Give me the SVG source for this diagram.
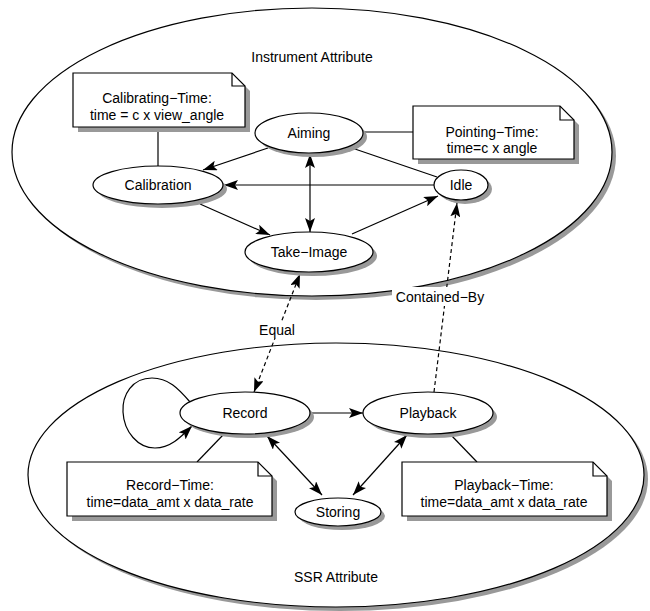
<svg xmlns="http://www.w3.org/2000/svg" width="650" height="611" viewBox="0 0 650 611">
<style>
text{font-family:"Liberation Sans",Arial,sans-serif;font-size:14px;fill:#000;text-anchor:middle}
.sh{fill:#999;stroke:none}
.nd{fill:#fff;stroke:#000;stroke-width:1.2}
.ln{fill:none;stroke:#000;stroke-width:1.2}
.ds{fill:none;stroke:#000;stroke-width:1.2;stroke-dasharray:4,3}
.bg{fill:#fff;stroke:none}
</style>
<defs>
<marker id="ah" viewBox="0 0 14 10" refX="14" refY="5" markerWidth="14" markerHeight="10" markerUnits="userSpaceOnUse" orient="auto-start-reverse">
<path d="M0,0 L14,5 L0,10 L3,5 Z" fill="#000"/>
</marker>
</defs>
<rect width="650" height="611" fill="#fff"/>
<g id="instrument-attribute">
<ellipse class="sh" cx="316" cy="156" rx="300" ry="144"/>
<ellipse class="nd" cx="312" cy="152" rx="300" ry="144"/>
<text x="312" y="62">Instrument Attribute</text>
</g>
<g id="ssr-attribute">
<ellipse class="sh" cx="340" cy="479" rx="308" ry="132"/>
<ellipse class="nd" cx="336" cy="475" rx="308" ry="132"/>
<text x="336" y="582">SSR Attribute</text>
</g>
<g id="connectors">
<line class="ln" x1="268" y1="148" x2="203" y2="170" marker-end="url(#ah)"/>
<line class="ln" x1="434" y1="185" x2="224" y2="185" marker-end="url(#ah)"/>
<line class="ln" x1="200" y1="204" x2="270" y2="235" marker-end="url(#ah)"/>
<line class="ln" x1="310" y1="154" x2="310" y2="232" marker-start="url(#ah)" marker-end="url(#ah)"/>
<line class="ln" x1="352" y1="234" x2="438" y2="196" marker-end="url(#ah)"/>
<line class="ln" x1="352" y1="148" x2="437" y2="177"/>
<line class="ln" x1="364" y1="132" x2="413" y2="132"/>
<line class="ln" x1="158" y1="127" x2="158" y2="166"/>
<line class="ds" x1="254" y1="392" x2="300" y2="274" marker-start="url(#ah)" marker-end="url(#ah)"/>
<line class="ds" x1="434" y1="392" x2="457" y2="203" marker-end="url(#ah)"/>
<path class="ln" d="M190,402 C178,388 168,378 152,378 C132,378 122,395 123,412 C124,432 138,448 155,448 C170,448 180,438 192,426" marker-end="url(#ah)"/>
<line class="ln" x1="311" y1="413" x2="363" y2="413" marker-end="url(#ah)"/>
<line class="ln" x1="267" y1="436" x2="322" y2="495" marker-start="url(#ah)" marker-end="url(#ah)"/>
<line class="ln" x1="407" y1="435" x2="353" y2="495" marker-start="url(#ah)" marker-end="url(#ah)"/>
<line class="ln" x1="223" y1="435" x2="197" y2="462"/>
<line class="ln" x1="450" y1="434" x2="477" y2="462"/>
<rect class="bg" x="392" y="287" width="96" height="19"/>
<text x="440" y="302">Contained−By</text>
<rect class="bg" x="258" y="321" width="38" height="17"/>
<text x="277" y="335">Equal</text>
</g>
<g id="note-calibrating">
<path class="sh" d="M78,78 H237 L250,91 V132 H78 Z"/>
<path class="nd" d="M73,73 H232 L245,86 V127 H73 Z"/>
<path class="ln" d="M232,73 V86 H245"/>
<text x="157" y="103">Calibrating−Time:</text>
<text x="157" y="120">time = c x view_angle</text>
</g>
<g id="note-pointing">
<path class="sh" d="M418,111 H565 L579,125 V164 H418 Z"/>
<path class="nd" d="M413,106 H560 L574,120 V159 H413 Z"/>
<path class="ln" d="M560,106 V120 H574"/>
<text x="492" y="137">Pointing−Time:</text>
<text x="492" y="153">time=c x angle</text>
</g>
<g id="aiming">
<ellipse class="sh" cx="313" cy="137" rx="54" ry="20"/>
<ellipse class="nd" cx="309" cy="133" rx="54" ry="20"/>
<text x="309" y="138">Aiming</text>
</g>
<g id="calibration">
<ellipse class="sh" cx="162" cy="189" rx="65" ry="19"/>
<ellipse class="nd" cx="158" cy="185" rx="65" ry="19"/>
<text x="158" y="190">Calibration</text>
</g>
<g id="idle">
<ellipse class="sh" cx="465" cy="189" rx="27" ry="15"/>
<ellipse class="nd" cx="461" cy="185" rx="27" ry="15"/>
<text x="461" y="190">Idle</text>
</g>
<g id="take-image">
<ellipse class="sh" cx="313" cy="256" rx="64" ry="20"/>
<ellipse class="nd" cx="309" cy="252" rx="64" ry="20"/>
<text x="309" y="257">Take−Image</text>
</g>
<g id="record">
<ellipse class="sh" cx="249" cy="417" rx="65" ry="21"/>
<ellipse class="nd" cx="245" cy="413" rx="65" ry="21"/>
<text x="245" y="418">Record</text>
</g>
<g id="playback">
<ellipse class="sh" cx="432" cy="417" rx="65" ry="21"/>
<ellipse class="nd" cx="428" cy="413" rx="65" ry="21"/>
<text x="428" y="418">Playback</text>
</g>
<g id="storing">
<ellipse class="sh" cx="342" cy="516" rx="43" ry="14"/>
<ellipse class="nd" cx="338" cy="512" rx="43" ry="14"/>
<text x="338" y="517">Storing</text>
</g>
<g id="note-record">
<path class="sh" d="M72,467 H263 L277,481 V521 H72 Z"/>
<path class="nd" d="M67,462 H258 L272,476 V516 H67 Z"/>
<path class="ln" d="M258,462 V476 H272"/>
<text x="170" y="490">Record−Time:</text>
<text x="170" y="507">time=data_amt x data_rate</text>
</g>
<g id="note-playback">
<path class="sh" d="M407,467 H598 L612,481 V521 H407 Z"/>
<path class="nd" d="M402,462 H593 L607,476 V516 H402 Z"/>
<path class="ln" d="M593,462 V476 H607"/>
<text x="504" y="490">Playback−Time:</text>
<text x="504" y="507">time=data_amt x data_rate</text>
</g>
</svg>
